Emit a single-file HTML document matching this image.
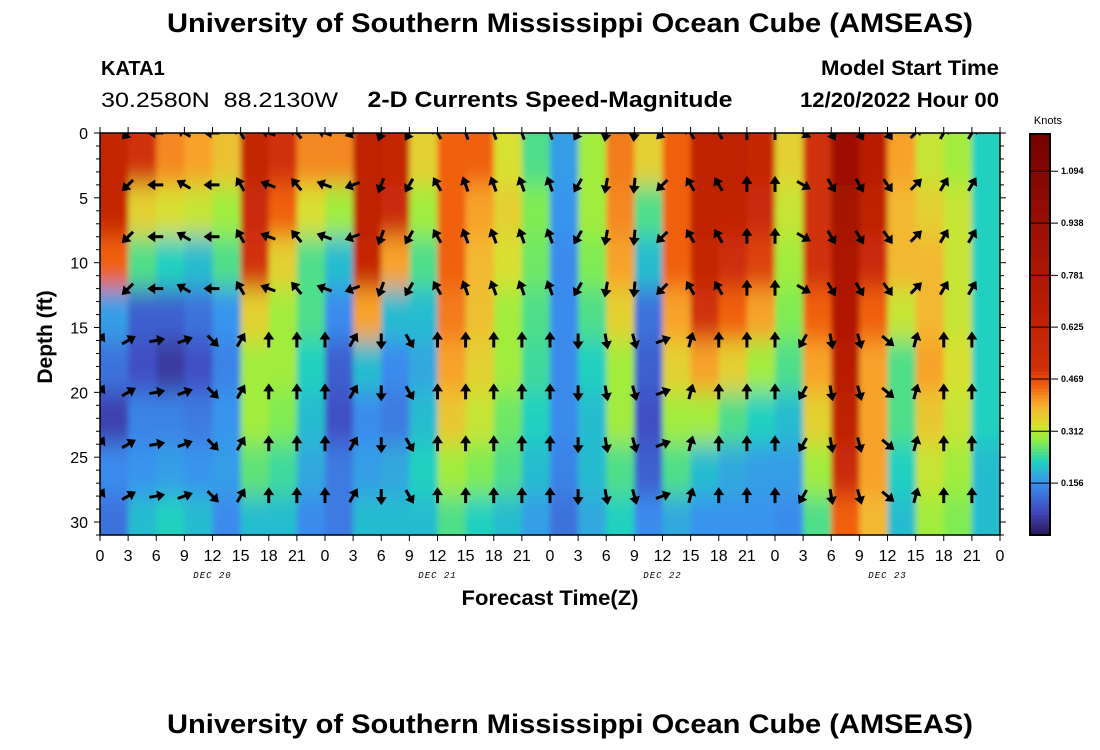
<!DOCTYPE html>
<html><head><meta charset="utf-8"><style>
html,body{margin:0;padding:0;background:#fff;width:1100px;height:750px;overflow:hidden}
svg text{font-family:"Liberation Sans",Arial,sans-serif}
</style></head><body>
<svg id="chart" width="1100" height="750" viewBox="0 0 1100 750" xmlns="http://www.w3.org/2000/svg">
<text x="570" y="32" text-anchor="middle" font-size="27" font-weight="bold" textLength="806" lengthAdjust="spacingAndGlyphs">University of Southern Mississippi Ocean Cube (AMSEAS)</text>
<text x="101" y="75" font-size="20" font-weight="bold">KATA1</text>
<text x="101" y="107" font-size="21" textLength="237" lengthAdjust="spacingAndGlyphs">30.2580N&#160;&#160;88.2130W</text>
<text x="550" y="107" text-anchor="middle" font-size="22" font-weight="bold" textLength="365" lengthAdjust="spacingAndGlyphs">2-D Currents Speed-Magnitude</text>
<text x="999" y="75" text-anchor="end" font-size="21" font-weight="bold" textLength="178" lengthAdjust="spacingAndGlyphs">Model Start Time</text>
<text x="999" y="107" text-anchor="end" font-size="21" font-weight="bold" textLength="199" lengthAdjust="spacingAndGlyphs">12/20/2022 Hour 00</text>
<text transform="translate(52,337) rotate(-90)" text-anchor="middle" font-size="21" font-weight="bold">Depth (ft)</text>
<text x="550" y="605" text-anchor="middle" font-size="21" font-weight="bold" textLength="177" lengthAdjust="spacingAndGlyphs">Forecast Time(Z)</text>
<text x="570" y="733" text-anchor="middle" font-size="27" font-weight="bold" textLength="806" lengthAdjust="spacingAndGlyphs">University of Southern Mississippi Ocean Cube (AMSEAS)</text>
<defs><clipPath id="pc"><rect x="100" y="133" width="900" height="402"/></clipPath>
<filter id="sm" x="-5%" y="-10%" width="110%" height="120%"><feGaussianBlur stdDeviation="3 12"/></filter></defs>
<g clip-path="url(#pc)"><g id="cells" filter="url(#sm)"></g></g>
<g id="arrows" clip-path="url(#pc)"></g>
<g id="axes"></g>
<g id="cbar"></g>
</svg>
<script>
const depthEdges = [0,4,8,12,16,20,24,28,31];
// speed (knots) per depth row, one value per 3-hour column (32 columns)
const row0 = [0.6,0.5,0.42,0.4,0.37,0.6,0.5,0.42,0.42,0.65,0.6,0.35,0.45,0.45,0.33,0.25,0.17,0.3,0.43,0.35,0.45,0.65,0.65,0.6,0.35,0.5,0.9,0.7,0.4,0.32,0.3,0.22];
const row1 = [0.6,0.35,0.33,0.32,0.3,0.55,0.45,0.33,0.3,0.65,0.55,0.3,0.45,0.4,0.35,0.28,0.16,0.3,0.42,0.25,0.45,0.65,0.62,0.55,0.32,0.5,0.85,0.65,0.38,0.35,0.32,0.22];
const row2 = [0.45,0.25,0.22,0.2,0.25,0.5,0.35,0.25,0.2,0.6,0.4,0.25,0.45,0.38,0.33,0.27,0.15,0.28,0.4,0.2,0.45,0.6,0.52,0.48,0.3,0.5,0.8,0.55,0.38,0.38,0.32,0.22];
const row3 = [0.17,0.1,0.1,0.12,0.16,0.35,0.3,0.25,0.15,0.4,0.2,0.2,0.43,0.37,0.3,0.25,0.15,0.25,0.35,0.12,0.4,0.5,0.45,0.4,0.28,0.45,0.75,0.45,0.32,0.38,0.32,0.22];
const row4 = [0.12,0.08,0.05,0.08,0.14,0.3,0.3,0.22,0.1,0.2,0.15,0.18,0.4,0.35,0.3,0.24,0.15,0.22,0.3,0.1,0.35,0.4,0.35,0.3,0.25,0.4,0.7,0.4,0.25,0.4,0.33,0.22];
const row5 = [0.06,0.14,0.14,0.13,0.16,0.3,0.28,0.2,0.08,0.15,0.13,0.2,0.36,0.32,0.27,0.22,0.15,0.2,0.3,0.08,0.3,0.3,0.25,0.22,0.2,0.35,0.65,0.4,0.25,0.36,0.32,0.22];
const row6 = [0.15,0.16,0.17,0.16,0.17,0.26,0.24,0.18,0.13,0.17,0.18,0.22,0.3,0.28,0.25,0.2,0.14,0.2,0.25,0.1,0.25,0.2,0.18,0.17,0.17,0.3,0.55,0.4,0.22,0.32,0.3,0.2];
const row7 = [0.12,0.2,0.22,0.2,0.15,0.2,0.2,0.15,0.13,0.2,0.2,0.2,0.25,0.22,0.2,0.17,0.12,0.18,0.22,0.15,0.18,0.16,0.16,0.16,0.15,0.25,0.45,0.38,0.2,0.3,0.28,0.2];
const speedRows = [row0,row1,row2,row3,row4,row5,row6,row7];
// arrow directions (deg, 0 = north) at each 3-hour tick (33), upper rows and lower rows
const arrowDirUpper = [null,225,270,300,270,330,290,320,290,250,200,210,330,340,340,340,340,210,190,185,225,330,330,0,0,120,150,150,145,45,30,30,null];
const arrowDirLower = [30,60,80,70,135,30,0,0,0,30,180,150,0,0,0,0,0,180,170,165,70,15,0,0,0,210,170,165,130,15,0,0,null];
const arrowDepths = [0,4,8,12,16,20,24,28];
const xTickLabels = ["0","3","6","9","12","15","18","21","0","3","6","9","12","15","18","21","0","3","6","9","12","15","18","21","0","3","6","9","12","15","18","21","0"];
const dateLabels = ["DEC 20","DEC 21","DEC 22","DEC 23"];
const yTicks = [0,5,10,15,20,25,30];
const cbLabels = [0.156,0.312,0.469,0.625,0.781,0.938,1.094];

const NS="http://www.w3.org/2000/svg";
const X0=100,X1=1000,Y0=133,Y1=535,TMAX=96,DMAX=31;
const xs=t=>X0+(X1-X0)*t/TMAX;
const ys=d=>Y0+(Y1-Y0)*d/DMAX;
const stops=[[0,[42,24,80]],[0.07,[64,72,190]],[0.156,[58,144,240]],[0.22,[32,208,192]],[0.29,[144,240,64]],[0.33,[216,224,48]],[0.39,[248,176,48]],[0.45,[240,96,16]],[0.5,[208,48,8]],[0.7,[184,28,4]],[1.0,[144,12,4]],[1.25,[112,0,0]]];
function cmap(v){
  if(v<=stops[0][0])return `rgb(${stops[0][1]})`;
  for(let i=1;i<stops.length;i++){if(v<=stops[i][0]){const a=stops[i-1],b=stops[i],f=(v-a[0])/(b[0]-a[0]);return `rgb(${a[1].map((c,j)=>Math.round(c+(b[1][j]-c)*f)).join(',')})`;}}
  return `rgb(${stops[stops.length-1][1]})`;
}
function mk(tag,attrs,parent){const e=document.createElementNS(NS,tag);for(const k in attrs)e.setAttribute(k,attrs[k]);parent.appendChild(e);return e;}
const cells=document.getElementById('cells');
const nR=speedRows.length;
speedRows.forEach((row,r)=>{const nC=row.length;row.forEach((v,c)=>{
  let x=xs(c*3),w=xs(3)-xs(0)+0.5,y=ys(depthEdges[r]),h=ys(depthEdges[r+1])-ys(depthEdges[r])+0.5;
  if(c===0){x-=30;w+=30;} if(c===nC-1){w+=30;}
  if(r===0){y-=40;h+=40;} if(r===nR-1){h+=40;}
  const e=mk('rect',{x:x,y:y,width:w,height:h,fill:cmap(v)},cells);
  
  
});});
const arrows=document.getElementById('arrows');
for(let k=0;k<arrowDirUpper.length;k++){arrowDepths.forEach((d,r)=>{
  const a=r<4?arrowDirUpper[k]:arrowDirLower[k];if(a===null)return;
  const cx=xs(k*3),cy=ys(d);
  const g=mk('g',{transform:`translate(${cx},${cy}) rotate(${a})`},arrows);
  
  
  mk('line',{x1:0,y1:7,x2:0,y2:-3,stroke:'#000','stroke-width':3},g);
  mk('path',{d:'M0,-9 L-5.5,-1 L5.5,-1 Z',fill:'#000'},g);
});}
const ax=document.getElementById('axes');
mk('rect',{x:X0,y:Y0,width:X1-X0,height:Y1-Y0,fill:'none',stroke:'#000','stroke-width':1.5},ax);
for(let d=0;d<=DMAX;d++){const y=ys(d),L=d%5===0?6:4;
  mk('line',{x1:X0-L,y1:y,x2:X0,y2:y,stroke:'#000','stroke-width':1},ax);
  mk('line',{x1:X1,y1:y,x2:X1+L,y2:y,stroke:'#000','stroke-width':1},ax);}
yTicks.forEach(d=>{const t=mk('text',{x:88,y:ys(d)+6,'text-anchor':'end','font-size':16},ax);t.textContent=d;
  });
xTickLabels.forEach((l,i)=>{const x=xs(i*3);
  mk('line',{x1:x,y1:Y0-6,x2:x,y2:Y0,stroke:'#000','stroke-width':1},ax);
  mk('line',{x1:x,y1:Y1,x2:x,y2:Y1+6,stroke:'#000','stroke-width':1},ax);
  const t=mk('text',{x:x,y:561,'text-anchor':'middle','font-size':16},ax);t.textContent=l;
  });
dateLabels.forEach((l,i)=>{const t=mk('text',{x:xs(i*24+12),y:578,'text-anchor':'middle','font-size':9,'font-style':'italic','letter-spacing':'1'},ax);
  t.setAttribute('style','font-family:"Liberation Mono",monospace');t.textContent=l;
  });
const cb=document.getElementById('cbar');
const CBY0=535,CBY1=134,CBMAX=1.206;
const cys=v=>CBY0-(CBY0-CBY1)*v/CBMAX;
for(let i=0;i<120;i++){const v0=CBMAX*i/120,v1=CBMAX*(i+1)/120;
  mk('rect',{x:1030,y:cys(v1),width:20,height:cys(v0)-cys(v1)+0.5,fill:cmap((v0+v1)/2)},cb);}
mk('rect',{x:1030,y:CBY1,width:20,height:CBY0-CBY1,fill:'none',stroke:'#000','stroke-width':2},cb);
cbLabels.forEach(v=>{const y=cys(v);mk('line',{x1:1030,y1:y,x2:1058,y2:y,stroke:'#000','stroke-width':1},cb);
  const t=mk('text',{x:1061,y:y+3,'font-size':9,'font-weight':'bold'},cb);t.textContent=v.toFixed(3);
  });
const kt=mk('text',{x:1048,y:124,'text-anchor':'middle','font-size':11},cb);kt.textContent='Knots';


</script>
</body></html>
